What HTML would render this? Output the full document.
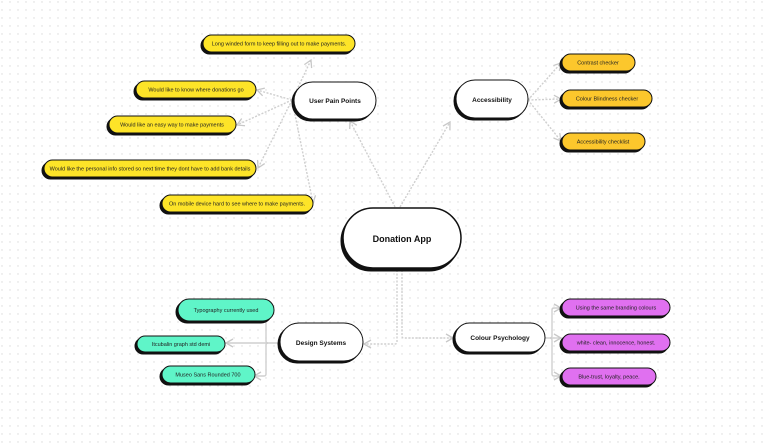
<!DOCTYPE html>
<html><head><meta charset="utf-8"><style>
html,body{margin:0;padding:0;background:#fff;}
svg{display:block;font-family:"Liberation Sans",sans-serif;}
</style></head><body>
<svg width="768" height="445" viewBox="0 0 768 445" xmlns="http://www.w3.org/2000/svg">
<defs>
<pattern id="dots" width="8" height="8" patternUnits="userSpaceOnUse"><circle cx="2" cy="2" r="0.7" fill="#d8d8d8"/></pattern>
<marker id="ar" markerWidth="10" markerHeight="10" refX="8" refY="5" orient="auto" markerUnits="userSpaceOnUse"><path d="M1,1 L8,5 L1,9" fill="none" stroke="#c8c8c8" stroke-width="1.3"/></marker>
</defs>
<rect width="768" height="445" fill="#fff"/>
<rect width="768" height="445" fill="url(#dots)"/>
<g fill="none" stroke="#cfcfcf" stroke-width="1.4" stroke-dasharray="2 1.5" marker-end="url(#ar)">
<!-- user pain points -->
<line x1="292" y1="100" x2="311" y2="60"/>
<line x1="292" y1="100" x2="257" y2="90"/>
<line x1="292" y1="100" x2="237" y2="125"/>
<line x1="292" y1="100" x2="258" y2="168"/>
<line x1="292" y1="100" x2="313" y2="203"/>
<!-- from donation app -->
<line x1="395" y1="207" x2="350" y2="121"/>
<line x1="400" y1="207" x2="450" y2="122"/>
<!-- accessibility -->
<line x1="528" y1="100" x2="561" y2="63"/>
<line x1="528" y1="100" x2="561" y2="99"/>
<line x1="528" y1="100" x2="561" y2="141"/>
<!-- down -->
<path d="M397,270 V342 Q397,344 395,344 H364"/>
<path d="M402,270 V336 Q402,338 404,338 H453"/>
</g>
<g fill="none" stroke="#cfcfcf" stroke-width="1.4" marker-end="url(#ar)">
<path d="M279,343 H226"/>
<path d="M268,343 Q266,343 266,345 V374 Q266,376 264,376 H254"/>
<path d="M268,343 Q266,343 266,341 V310 Q266,308 264,308 H273" marker-end="none"/>
<path d="M545,338 H561"/>
<path d="M550,338 Q552,338 552,336 V310 Q552,308 554,308 H561"/>
<path d="M550,338 Q552,338 552,340 V374 Q552,376 554,376 H561"/>
</g>
<!-- pills helper: shadow then shape -->
<g stroke="#111" stroke-width="1">
<!-- yellow -->
<rect x="201" y="37" width="152" height="17" rx="8.5" fill="#111"/><rect x="203" y="35" width="152" height="17" rx="8.5" fill="#fde428"/>
<rect x="134" y="83" width="120" height="17" rx="8.5" fill="#111"/><rect x="136" y="81" width="120" height="17" rx="8.5" fill="#fde428"/>
<rect x="107" y="118" width="127" height="17" rx="8.5" fill="#111"/><rect x="109" y="116" width="127" height="17" rx="8.5" fill="#fde428"/>
<rect x="42" y="162" width="212" height="17" rx="8.5" fill="#111"/><rect x="44" y="160" width="212" height="17" rx="8.5" fill="#fde428"/>
<rect x="160" y="197" width="151" height="17" rx="8.5" fill="#111"/><rect x="162" y="195" width="151" height="17" rx="8.5" fill="#fde428"/>
<!-- orange -->
<rect x="560" y="56" width="73" height="17" rx="8.5" fill="#111"/><rect x="562" y="54" width="73" height="17" rx="8.5" fill="#fcc72c"/>
<rect x="560" y="92" width="90" height="17" rx="8.5" fill="#111"/><rect x="562" y="90" width="90" height="17" rx="8.5" fill="#fcc72c"/>
<rect x="560" y="135" width="83" height="17" rx="8.5" fill="#111"/><rect x="562" y="133" width="83" height="17" rx="8.5" fill="#fcc72c"/>
<!-- teal -->
<rect x="176" y="301" width="96" height="22" rx="11" fill="#111"/><rect x="178" y="299" width="96" height="22" rx="11" fill="#5ff5c8"/>
<rect x="135" y="338" width="88" height="16" rx="8" fill="#111"/><rect x="137" y="336" width="88" height="16" rx="8" fill="#5ff5c8"/>
<rect x="160" y="368" width="93" height="17" rx="8.5" fill="#111"/><rect x="162" y="366" width="93" height="17" rx="8.5" fill="#5ff5c8"/>
<!-- purple -->
<rect x="560" y="301" width="108" height="17" rx="8.5" fill="#111"/><rect x="562" y="299" width="108" height="17" rx="8.5" fill="#e070f0"/>
<rect x="560" y="336" width="108" height="17" rx="8.5" fill="#111"/><rect x="562" y="334" width="108" height="17" rx="8.5" fill="#e070f0"/>
<rect x="560" y="370" width="94" height="17" rx="8.5" fill="#111"/><rect x="562" y="368" width="94" height="17" rx="8.5" fill="#e070f0"/>
<!-- white nodes -->
<rect x="292" y="84" width="82" height="37" rx="18.5" fill="#111"/><rect x="294" y="82" width="82" height="37" rx="18.5" fill="#fff"/>
<rect x="454" y="82" width="72" height="38" rx="19" fill="#111"/><rect x="456" y="80" width="72" height="38" rx="19" fill="#fff"/>
<rect x="341" y="211" width="118" height="60" rx="30" fill="#111"/><rect x="343" y="208" width="118" height="60" rx="30" fill="#fff" stroke-width="1.5"/>
<rect x="278" y="325" width="83" height="38" rx="19" fill="#111"/><rect x="280" y="323" width="83" height="38" rx="19" fill="#fff"/>
<rect x="453" y="325" width="90" height="29" rx="14.5" fill="#111"/><rect x="455" y="323" width="90" height="29" rx="14.5" fill="#fff"/>
</g>
<g font-size="5.5" fill="#222" text-anchor="middle">
<text x="279" y="45.5">Long winded form to keep filling out to make payments.</text>
<text x="196" y="91.5">Would like to know where donations go</text>
<text x="172" y="126.5">Would like an easy way to make payments</text>
<text x="150" y="170.5">Would like the personal info stored so next time they dont have to add bank details</text>
<text x="237" y="205.5">On mobile device hard to see where to make payments.</text>
<text x="598" y="64.5">Contrast checker</text>
<text x="607" y="100.5">Colour Blindness checker</text>
<text x="603" y="143.5">Accessibility checklist</text>
<text x="226" y="312">Typography currently used</text>
<text x="181" y="346">Itcubalin graph std demi</text>
<text x="208" y="376.5">Museo Sans Rounded 700</text>
<text x="616" y="309.5">Using the same branding colours</text>
<text x="616" y="344.5">white- clean, innocence, honest.</text>
<text x="609" y="378.5">Blue-trust, loyalty, peace.</text>
</g>
<g font-weight="bold" fill="#111" text-anchor="middle">
<text x="335" y="103" font-size="6.5">User Pain Points</text>
<text x="492" y="102" font-size="6.5">Accessibility</text>
<text x="402" y="242" font-size="9">Donation App</text>
<text x="321" y="345" font-size="6.5">Design Systems</text>
<text x="500" y="340" font-size="6.5">Colour Psychology</text>
</g>
</svg>
</body></html>
